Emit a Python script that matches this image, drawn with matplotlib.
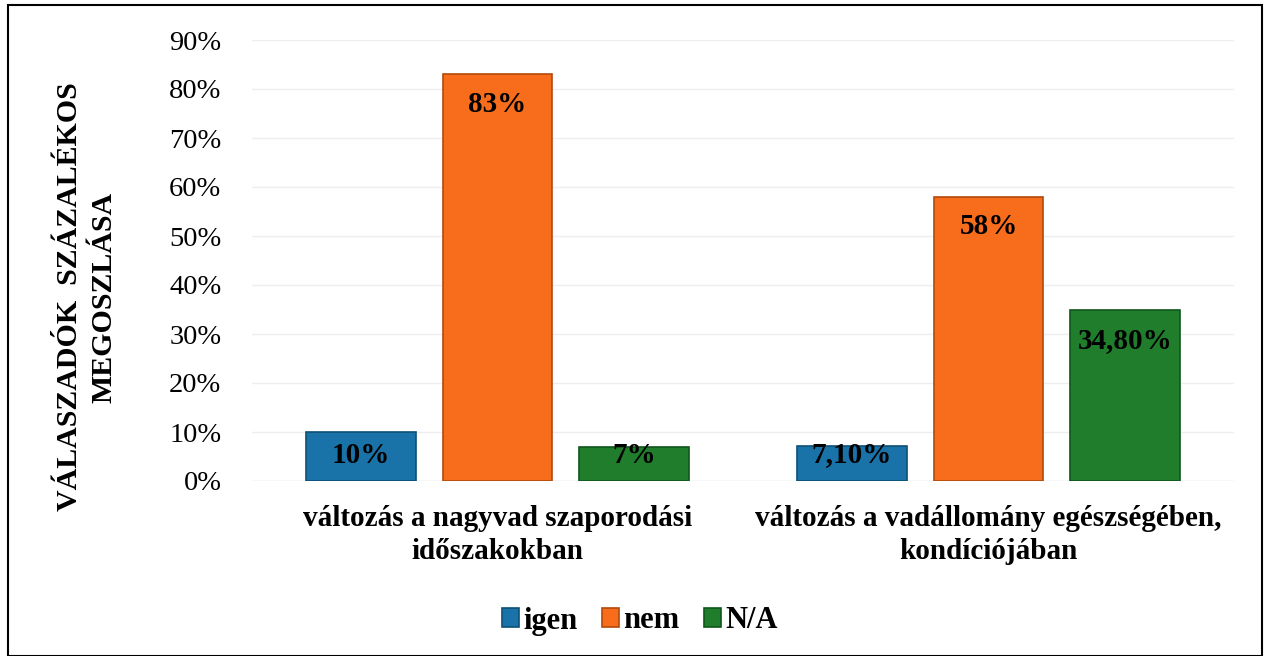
import matplotlib.pyplot as plt
from matplotlib.patches import Rectangle

plt.rcParams['font.family'] = ['Liberation Serif', 'DejaVu Serif']

# Adatok
kategoriak = ['változás a nagyvad szaporodási\nidőszakokban',
              'változás a vadállomány egészségében,\nkondíciójában']
sorozatok = ['igen', 'nem', 'N/A']
ertekek = {
    'igen': [10, 7.1],
    'nem': [83, 58],
    'N/A': [7, 34.8],
}
cimkek = {
    'igen': ['10%', '7,10%'],
    'nem': ['83%', '58%'],
    'N/A': ['7%', '34,80%'],
}
szinek = {'igen': '#1a73a8', 'nem': '#f86d1c', 'N/A': '#1f7d2c'}
szegely = {'igen': '#0e4f75', 'nem': '#b2490d', 'N/A': '#10561a'}
yticks = list(range(0, 91, 10))

fig = plt.figure(figsize=(12.69, 6.56), dpi=100)
ax = fig.add_axes([252 / 1269, 1 - 481 / 656, 982 / 1269, 441 / 656])

szelesseg = 0.224
eltolas = 0.279
for j, s in enumerate(sorozatok):
    xs = [i + (j - 1) * eltolas for i in range(len(kategoriak))]
    ax.bar(xs, ertekek[s], width=szelesseg, color=szinek[s],
           edgecolor=szegely[s], linewidth=1.2, label=s, zorder=3)
    for x, v, c in zip(xs, ertekek[s], cimkek[s]):
        ax.text(x, max(v - 6.1, 5.3), c, ha='center', va='center',
                fontsize=21, fontweight='bold', color='black', zorder=4)

ax.set_xlim(-0.5, 1.5)
ax.set_ylim(0, 90)
ax.set_yticks(yticks)
ax.set_yticklabels([f'{t}%' for t in yticks], fontsize=20.5)
ax.set_xticks(range(len(kategoriak)))
ax.set_xticklabels(kategoriak, fontsize=21, fontweight='bold', linespacing=1.3)
ax.tick_params(axis='y', length=0, pad=22)
ax.tick_params(axis='x', length=0, pad=17)
ax.grid(axis='y', color='#eeeeee', linewidth=1, zorder=0)
for sp in ax.spines.values():
    sp.set_visible(False)
ax.axhline(0, color='#e6e6e6', linewidth=1, zorder=1)

fig.text(87 / 1269, 1 - 297 / 656, 'VÁLASZADÓK  SZÁZALÉKOS\nMEGOSZLÁSA',
         rotation=90, ha='center', va='center', fontsize=21.5,
         fontweight='bold', linespacing=1.35, multialignment='center')

leg = fig.legend(loc='center', bbox_to_anchor=(640 / 1269, 1 - 621 / 656),
                 ncol=3, frameon=False, prop={'size': 22, 'weight': 'bold'},
                 handlelength=0.55, handleheight=0.55, handletextpad=0.15,
                 columnspacing=0.8)

# keret az ábra körül
fig.patches.append(Rectangle((8 / 1269, 0), 1254 / 1269, 1 - 5 / 656,
                             transform=fig.transFigure, fill=False,
                             edgecolor='black', linewidth=1.5))

fig.savefig('out.png', dpi=100)
